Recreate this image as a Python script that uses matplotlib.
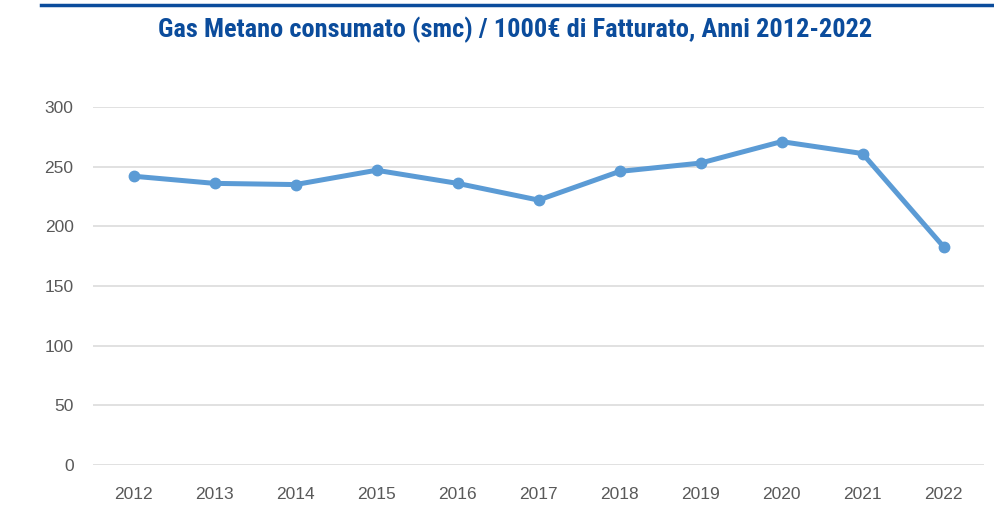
import matplotlib.pyplot as plt
import numpy as np

anni = ['2012', '2013', '2014', '2015', '2016', '2017', '2018', '2019', '2020', '2021', '2022']
smc_per_1000 = [242, 236, 235, 247, 236, 222, 246, 253, 271, 261, 183]
yticks = [0, 50, 100, 150, 200, 250, 300]

titolo = 'Gas Metano consumato (smc) / 1000€ di Fatturato, Anni 2012-2022'
blu_scuro = '#0b4c9c'
blu_linea = '#5b9bd5'
grigio = '#595959'

fig = plt.figure(figsize=(9.94, 5.05), dpi=100)
W, H = 994, 505
ax = fig.add_axes([93 / W, 1 - 465 / H, (984 - 93) / W, (465 - 107) / H])

x = np.arange(len(anni))
ax.plot(x, smc_per_1000, color=blu_linea, linewidth=3.6, marker='o',
        markersize=7.5, solid_capstyle='round', zorder=3)

ax.set_xlim(-0.5, len(anni) - 0.5)
ax.set_ylim(0, 300)
ax.set_yticks(yticks)
ax.set_xticks(x)
ax.set_xticklabels(anni)
ax.grid(axis='y', color='#d9d9d9', linewidth=1.1)
ax.set_axisbelow(True)
for s in ax.spines.values():
    s.set_visible(False)
ax.tick_params(axis='both', length=0, labelsize=12.5, labelcolor=grigio)
ax.tick_params(axis='y', pad=14)
ax.tick_params(axis='x', pad=16)
for lab in ax.get_xticklabels() + ax.get_yticklabels():
    lab.set_fontfamily('Liberation Sans')

# riga blu in alto e titolo
fig.add_artist(plt.Line2D([41 / W, 1], [1 - 5 / H, 1 - 5 / H], color=blu_scuro,
                          linewidth=2.5, transform=fig.transFigure))
fig.text(515 / W, 1 - 30 / H, titolo, ha='center', va='center', fontsize=19,
         fontweight='bold', color=blu_scuro,
         family=['Roboto Condensed', 'Roboto', 'DejaVu Sans'])

fig.savefig('out.png', dpi=100)
